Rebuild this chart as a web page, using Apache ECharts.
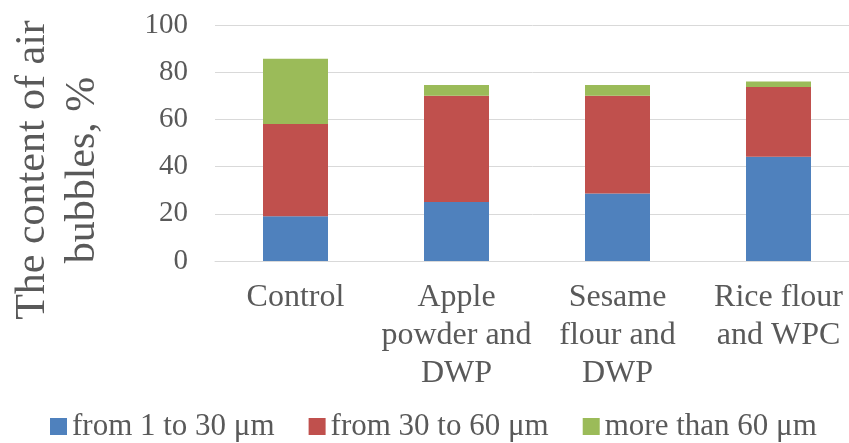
<!DOCTYPE html>
<html><head><meta charset="utf-8">
<script src="https://cdn.jsdelivr.net/npm/echarts@6/dist/echarts.min.js"></script>
<style>html,body{margin:0;padding:0;background:#fff}#c{width:849px;height:443px}</style>
</head><body><div id="c"></div>
<script>
var categories = ['Control', 'Apple\npowder and\nDWP', 'Sesame\nflour and\nDWP', 'Rice flour\nand WPC'];
var small = [19, 25, 28.6, 44.2];
var medium = [39, 45, 41.4, 29.5];
var large = [27.7, 4.6, 4.6, 2.4];
var yTicks = [0, 20, 40, 60, 80, 100];
var seriesNames = ['from 1 to 30 μm', 'from 30 to 60 μm', 'more than 60 μm'];
var colors = ['#4f81bd', '#c0504d', '#9bbb59'];
var font = '"Liberation Serif", "Times New Roman", serif';
var chart = echarts.init(document.getElementById('c'));
function s(name, data, color) {
  return {name: name, type: 'bar', stack: 'a', data: data, barWidth: 65,
    itemStyle: {color: color}};
}
chart.setOption({
  animation: false,
  textStyle: {fontFamily: font},
  grid: {left: 215, top: 25, width: 644, bottom: 182, outerBoundsMode: 'none', containLabel: false},
  legend: {
    top: 411, left: 50, padding: 0, itemWidth: 17, itemHeight: 17, itemGap: 34, icon: 'rect',
    textStyle: {fontFamily: font, fontSize: 31, color: '#595959'},
    data: seriesNames
  },
  xAxis: {
    type: 'category', data: categories,
    axisLine: {lineStyle: {color: '#d9d9d9'}}, axisTick: {show: false},
    axisLabel: {fontFamily: font, fontSize: 32, color: '#595959', lineHeight: 38, margin: 18, interval: 0}
  },
  yAxis: {
    type: 'value', min: yTicks[0], max: yTicks[yTicks.length - 1], interval: 20,
    name: 'The content of air\nbubbles, %', nameLocation: 'middle', nameRotate: 90, nameGap: 107,
    nameTextStyle: {fontFamily: font, fontSize: 42, color: '#595959', lineHeight: 50, padding: [0, 54, 0, 0]},
    axisLine: {show: false}, axisTick: {show: false},
    splitLine: {lineStyle: {color: '#d9d9d9'}},
    axisLabel: {fontFamily: font, fontSize: 29, color: '#595959', margin: 27}
  },
  series: [s(seriesNames[0], small, colors[0]), s(seriesNames[1], medium, colors[1]), s(seriesNames[2], large, colors[2])]
});
</script></body></html>
